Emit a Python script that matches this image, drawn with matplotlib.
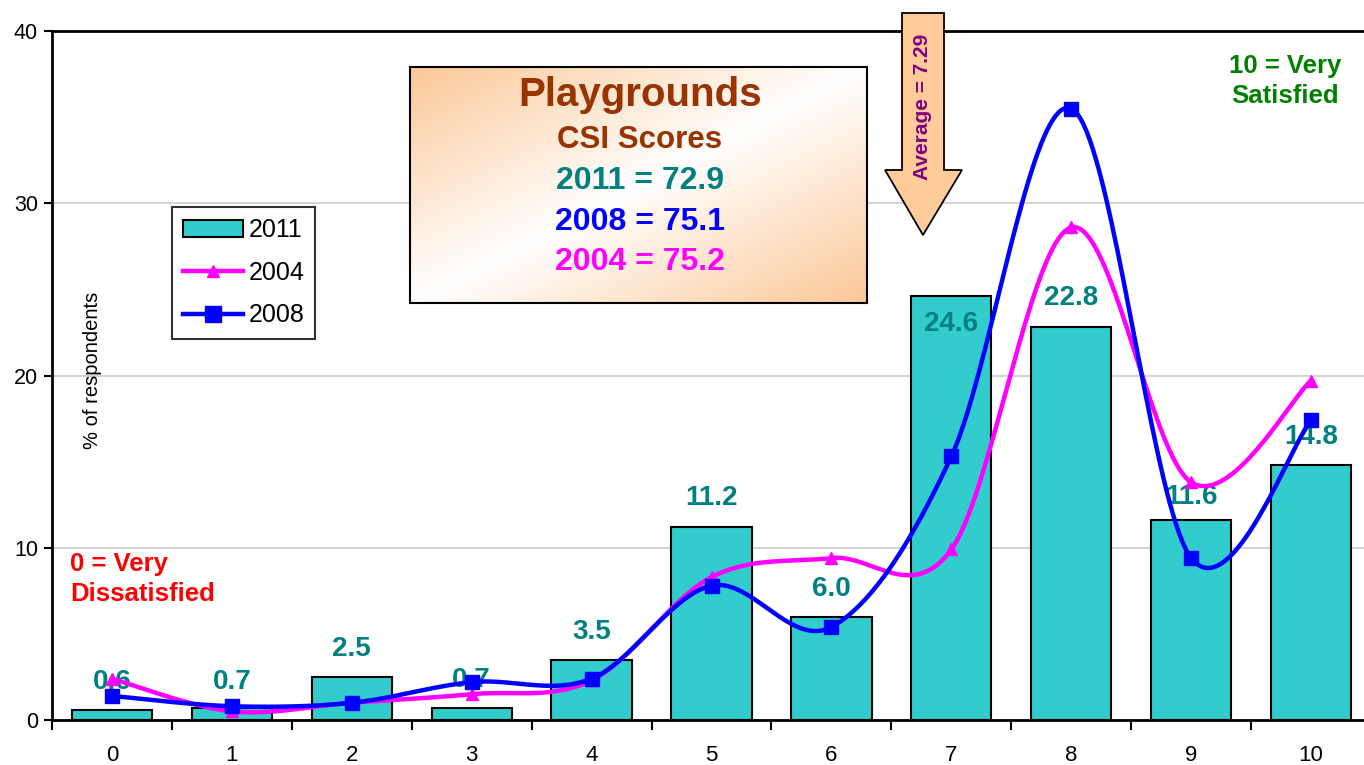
import numpy as np
import matplotlib
matplotlib.use("Agg")
import matplotlib.pyplot as plt
from matplotlib.patches import Patch, Polygon
from matplotlib.lines import Line2D

plt.rcParams['font.family'] = ['Liberation Sans', 'DejaVu Sans']

# data
scores = list(range(11))
pct_2011 = [0.6, 0.7, 2.5, 0.7, 3.5, 11.2, 6.0, 24.6, 22.8, 11.6, 14.8]
pct_2004 = [2.4, 0.5, 1.0, 1.5, 2.3, 8.3, 9.4, 9.9, 28.6, 13.8, 19.7]
pct_2008 = [1.4, 0.8, 1.0, 2.2, 2.4, 7.8, 5.4, 15.3, 35.5, 9.4, 17.4]
label_offset = [20, 19, 20, 20, 20, 21, 20, -20, 21, 17, 20]  # points, 24.6 sits inside its bar

W, H = 1364, 765


def fx(px):
    return px / W


def fy(py):
    return 1 - py / H


def smooth(x, y, n=40):
    # Excel style smoothed line (Catmull-Rom through the points)
    p = np.column_stack([x, y]).astype(float)
    p = np.vstack([p[0], p, p[-1]])
    t = np.linspace(0, 1, n)[:, None]
    out = []
    for i in range(1, len(p) - 2):
        p0, p1, p2, p3 = p[i - 1], p[i], p[i + 1], p[i + 2]
        c1 = p1 + (p2 - p0) / 6
        c2 = p2 - (p3 - p1) / 6
        seg = ((1 - t) ** 3) * p1 + 3 * ((1 - t) ** 2) * t * c1 + 3 * (1 - t) * t ** 2 * c2 + t ** 3 * p2
        out.append(seg)
    out = np.vstack(out)
    return out[:, 0], out[:, 1]


fig = plt.figure(figsize=(13.64, 7.65), dpi=100)
ax = fig.add_axes([fx(52), fy(720), fx(1371) - fx(52), fy(31) - fy(720)])

bar_color = '#33CCCC'
ax.bar(scores, pct_2011, width=0.67, color=bar_color, edgecolor='black', linewidth=1.5, zorder=2)

for xi, v, off in zip(scores, pct_2011, label_offset):
    ax.annotate(f'{v:.1f}', (xi, v), xytext=(0, off), textcoords='offset points',
                ha='center', va='center', fontsize=20, fontweight='bold', color='#008080', zorder=3)

sx, sy = smooth(scores, pct_2004)
ax.plot(sx, sy, color='#FF00FF', lw=3.2, zorder=4, solid_capstyle='round')
ax.plot(scores, pct_2004, ls='none', marker='^', ms=9, color='#FF00FF', zorder=4)

sx, sy = smooth(scores, pct_2008)
ax.plot(sx, sy, color='#0000FF', lw=3.2, zorder=5, solid_capstyle='round')
ax.plot(scores, pct_2008, ls='none', marker='s', ms=10, color='#0000FF', zorder=5)

ax.set_xlim(-0.5, 10.5)
ax.set_ylim(0, 40)
ax.set_yticks([0, 10, 20, 30, 40])
ax.set_xticks(scores)
ax.set_xticks(np.arange(-0.5, 11, 1), minor=True)
ax.tick_params(axis='x', which='major', length=0, labelsize=16, pad=18)
ax.tick_params(axis='x', which='minor', length=7, width=1.5, direction='out')
ax.tick_params(axis='y', length=6, width=1.5, labelsize=15.5, pad=4)
ax.grid(axis='y', color='#CCCCCC', lw=1.2, zorder=0)
ax.set_axisbelow(True)
for s in ax.spines.values():
    s.set_linewidth(2)
ax.spines['right'].set_visible(False)

ax.text(fx(92), fy(370), '% of respondents', transform=fig.transFigure, rotation=90,
        ha='center', va='center', fontsize=14.5)

handles = [Patch(facecolor=bar_color, edgecolor='black', linewidth=1.5),
           Line2D([], [], color='#FF00FF', lw=3.2, marker='^', ms=9),
           Line2D([], [], color='#0000FF', lw=3.2, marker='s', ms=11)]
leg = ax.legend(handles, ['2011', '2004', '2008'], loc='upper left',
                bbox_to_anchor=(fx(172), fy(207)), bbox_transform=fig.transFigure,
                fontsize=18, frameon=True, fancybox=False, borderpad=0.45,
                labelspacing=0.74, handlelength=2.4, handletextpad=0.2, borderaxespad=0)
leg.get_frame().set_edgecolor('black')
leg.get_frame().set_linewidth(1.5)

# CSI score box with diagonal gradient
bx = fig.add_axes([fx(410), fy(303), fx(867) - fx(410), fy(67) - fy(303)])
gx, gy = np.meshgrid(np.linspace(0, 1, 200), np.linspace(0, 1, 120))
w = np.abs((gx + gy) / 2 - 0.5) * 2
orange = np.array([251, 200, 150]) / 255
img = (1 - w[..., None]) * np.ones(3) + w[..., None] * orange
bx.imshow(img, aspect='auto', extent=[0, 1, 0, 1], origin='upper')
bx.set_xticks([])
bx.set_yticks([])
for s in bx.spines.values():
    s.set_linewidth(1.5)

fig.text(fx(640), fy(95), 'Playgrounds', ha='center', va='center', fontsize=29,
         fontweight='bold', color='#993300')
fig.text(fx(640), fy(140), 'CSI Scores', ha='center', va='center', fontsize=22.5,
         fontweight='bold', color='#993300')
fig.text(fx(640), fy(181), '2011 = 72.9', ha='center', va='center', fontsize=23,
         fontweight='bold', color='#008080')
fig.text(fx(640), fy(222), '2008 = 75.1', ha='center', va='center', fontsize=23,
         fontweight='bold', color='#0000FF')
fig.text(fx(640), fy(262), '2004 = 75.2', ha='center', va='center', fontsize=23,
         fontweight='bold', color='#FF00FF')

# average arrow
arrow_px = [(902, 13), (944, 13), (944, 170), (962, 170), (923, 235), (885, 170), (902, 170)]
arrow = Polygon([(fx(a), fy(b)) for a, b in arrow_px], closed=True, transform=fig.transFigure,
                facecolor='#FFCC99', edgecolor='black', lw=1.3, zorder=6)
fig.add_artist(arrow)
fig.text(fx(923), fy(107), 'Average = 7.29', rotation=90, ha='center', va='center',
         fontsize=15, fontweight='bold', color='#800080', zorder=7)

fig.text(fx(1285), fy(81), '10 = Very\nSatisfied', ha='center', va='center', fontsize=18.5,
         fontweight='bold', color='#008000', linespacing=1.35)
fig.text(fx(70), fy(579), '0 = Very\nDissatisfied', ha='left', va='center', fontsize=18.5,
         fontweight='bold', color='#FF0000', linespacing=1.35)

fig.savefig('out.png', dpi=100)
